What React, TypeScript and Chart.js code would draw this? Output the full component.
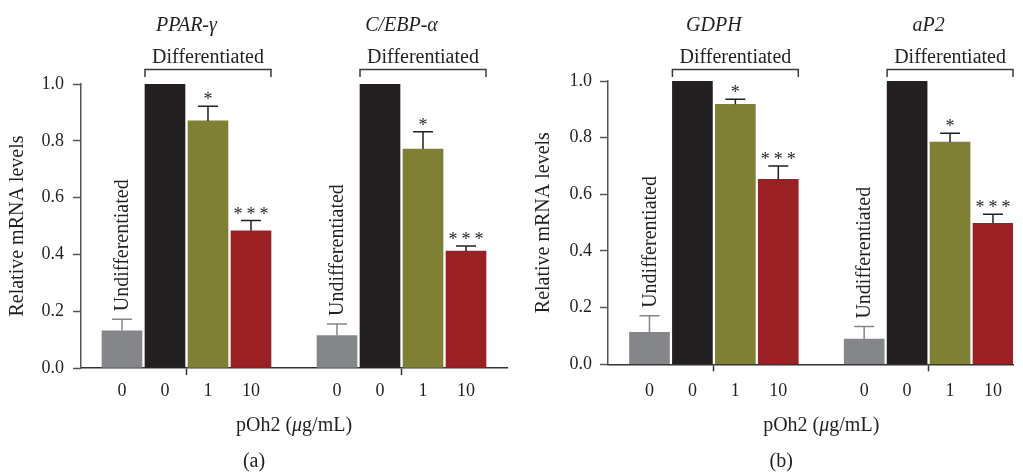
import React, { useEffect, useRef } from 'react';
import { Chart, registerables } from 'chart.js';

Chart.register(...registerables);

const FONT = "'Liberation Serif', 'Times New Roman', serif";
const INK = '#231f20';

// ---- data ----
const doseLabels = ['0', '0', '1', '10'];
const barColors = ['#848689', '#231f20', '#7f8034', '#9b2023'];
const groupPositions = [0, 1, 2, 3, 5, 6, 7, 8];
const groupTickMarks = [1.5, 6.5];
const yTicks = [0, 0.2, 0.4, 0.6, 0.8, 1.0];

const genesA = ['PPAR-γ', 'C/EBP-α'];
const valuesA = [0.131, 1.0, 0.87, 0.483, 0.114, 1.0, 0.771, 0.412];
const errorsA = [0.041, 0, 0.052, 0.036, 0.041, 0, 0.061, 0.018];
const sigA = ['', '', '*', '***', '', '', '*', '***'];

const genesB = ['GDPH', 'aP2'];
const valuesB = [0.113, 1.0, 0.918, 0.653, 0.089, 1.0, 0.784, 0.498];
const errorsB = [0.058, 0, 0.018, 0.047, 0.044, 0, 0.032, 0.032];
const sigB = ['', '', '*', '***', '', '', '*', '***'];

type PanelProps = {
  genes: string[];
  values: number[];
  errors: number[];
  sig: string[];
  caption: string;
  width: number;
  leftW: number;
  top: number;
  rightPad: number;
  bottomH: number;
  xMin: number;
  xMax: number;
  tickPad: number;
  yLabelPad: number;
  yTickPad: number;
};

function Panel(p: PanelProps) {
  const ref = useRef<HTMLCanvasElement | null>(null);
  useEffect(() => {
    if (!ref.current) return;
    const annot = {
      id: 'annot',
      afterDatasetsDraw(chart: any) {
        const ctx = chart.ctx as CanvasRenderingContext2D;
        const xs = chart.scales.x;
        const ys = chart.scales.y;
        ctx.save();
        p.values.forEach((v, i) => {
          const px = xs.getPixelForValue(groupPositions[i]);
          const err = p.errors[i];
          const yBar = ys.getPixelForValue(v);
          const yCap = ys.getPixelForValue(v + err);
          if (err > 0) {
            ctx.strokeStyle = i % 4 === 0 ? barColors[0] : INK;
            ctx.lineWidth = 1.5;
            ctx.beginPath();
            ctx.moveTo(px, yBar);
            ctx.lineTo(px, yCap);
            ctx.moveTo(px - 10, yCap);
            ctx.lineTo(px + 10, yCap);
            ctx.stroke();
          }
          if (p.sig[i]) {
            ctx.fillStyle = INK;
            ctx.font = `18px ${FONT}`;
            ctx.textAlign = 'center';
            ctx.textBaseline = 'alphabetic';
            (ctx as any).letterSpacing = p.sig[i].length > 1 ? '4px' : '0px';
            const off = p.sig[i].length > 1 ? 2 : 0;
            ctx.fillText(p.sig[i], px + off, yCap - 1);
            (ctx as any).letterSpacing = '0px';
          }
          if (i % 4 === 0) {
            ctx.save();
            ctx.translate(px, yCap - 8);
            ctx.rotate(-Math.PI / 2);
            ctx.fillStyle = INK;
            ctx.font = `20px ${FONT}`;
            ctx.textAlign = 'left';
            ctx.textBaseline = 'middle';
            ctx.fillText('Undifferentiated', 0, 1);
            ctx.restore();
          }
        });
        // brackets + gene names
        for (let g = 0; g < 2; g++) {
          const x1 = xs.getPixelForValue(groupPositions[g * 4 + 1]) - 20;
          const x2 = xs.getPixelForValue(groupPositions[g * 4 + 3]) + 20;
          const by = 69.5;
          ctx.strokeStyle = '#3a3a3a';
          ctx.lineWidth = 1.5;
          ctx.beginPath();
          ctx.moveTo(x1, by + 7.5);
          ctx.lineTo(x1, by);
          ctx.lineTo(x2, by);
          ctx.lineTo(x2, by + 7.5);
          ctx.stroke();
          ctx.fillStyle = INK;
          ctx.font = `20px ${FONT}`;
          ctx.textAlign = 'center';
          ctx.textBaseline = 'alphabetic';
          ctx.fillText('Differentiated', (x1 + x2) / 2, 63);
          ctx.font = `italic 20px ${FONT}`;
          ctx.fillText(p.genes[g], xs.getPixelForValue(groupTickMarks[g]), 30.5);
        }
        // x title with italic mu, and caption
        const cx = xs.getPixelForValue(4);
        const parts: [string, string][] = [
          ['pOh2 (', `20px ${FONT}`],
          ['μ', `italic 20px ${FONT}`],
          ['g/mL)', `20px ${FONT}`],
        ];
        let total = 0;
        parts.forEach(([t, f]) => { ctx.font = f; total += ctx.measureText(t).width; });
        let xx = cx - total / 2;
        ctx.textAlign = 'left';
        parts.forEach(([t, f]) => {
          ctx.font = f;
          ctx.fillText(t, xx, 431);
          xx += ctx.measureText(t).width;
        });
        ctx.font = `20px ${FONT}`;
        ctx.textAlign = 'center';
        ctx.fillText(p.caption, cx - 40, 467);
        ctx.restore();
      },
    };

    const labelFor = (v: number) => {
      const i = groupPositions.indexOf(v);
      return i >= 0 ? doseLabels[i % 4] : '';
    };

    const chart = new Chart(ref.current, {
      type: 'bar',
      data: {
        datasets: [
          {
            data: p.values.map((v, i) => ({ x: groupPositions[i], y: v })) as any,
            backgroundColor: p.values.map((_, i) => barColors[i % 4]),
            borderWidth: 0,
            barThickness: 40,
          },
        ],
      },
      options: {
        animation: false,
        responsive: false,
        layout: { padding: { top: p.top, right: p.rightPad, left: 0, bottom: 0 } },
        plugins: { legend: { display: false }, tooltip: { enabled: false } },
        scales: {
          x: {
            type: 'linear',
            offset: false,
            min: p.xMin,
            max: p.xMax,
            afterBuildTicks: (s: any) => {
              s.ticks = [...groupPositions, ...groupTickMarks]
                .sort((a, b) => a - b)
                .map((v) => ({ value: v }));
            },
            afterFit: (s: any) => { s.height = p.bottomH; },
            ticks: {
              autoSkip: false,
              maxRotation: 0,
              callback: (v: any) => labelFor(Number(v)),
              font: { size: 18, family: FONT },
              color: INK,
              padding: p.tickPad,
            },
            grid: {
              offset: false,
              drawOnChartArea: false,
              drawTicks: true,
              tickLength: 7,
              tickWidth: 1.5,
              tickColor: (c: any) =>
                c.tick && Number.isInteger(c.tick.value) ? 'rgba(0,0,0,0)' : '#333',
            },
            border: { display: true, color: '#333', width: 1.5 },
          },
          y: {
            min: 0,
            max: 1,
            afterBuildTicks: (s: any) => { s.ticks = yTicks.map((v) => ({ value: v })); },
            afterFit: (s: any) => { s.width = p.leftW; },
            ticks: {
              callback: (v: any) => Number(v).toFixed(1),
              font: { size: 18, family: FONT },
              color: INK,
              padding: p.yTickPad,
            },
            grid: {
              drawOnChartArea: false,
              drawTicks: true,
              tickLength: 8,
              tickWidth: 1.5,
              tickColor: '#555',
            },
            border: { display: true, color: '#555', width: 1.5 },
            title: {
              display: true,
              text: 'Relative mRNA levels',
              font: { size: 20, family: FONT },
              color: INK,
              padding: { top: p.yLabelPad, bottom: 0 },
            },
          },
        },
      },
      plugins: [annot],
    });
    return () => chart.destroy();
  }, []);
  return <canvas ref={ref} width={p.width} height={475} style={{ display: 'block' }} />;
}

export default function App() {
  return (
    <div
      style={{
        position: 'absolute',
        left: 0,
        top: 0,
        width: 1023,
        height: 475,
        background: '#fff',
        display: 'flex',
      }}
    >
      <Panel
        genes={genesA}
        values={valuesA}
        errors={errorsA}
        sig={sigA}
        caption="(a)"
        width={512}
        leftW={81}
        top={84}
        rightPad={5}
        bottomH={107}
        xMin={-0.953}
        xMax={8.953}
        tickPad={5}
        yLabelPad={6}
        yTickPad={9}
      />
      <Panel
        genes={genesB}
        values={valuesB}
        errors={errorsB}
        sig={sigB}
        caption="(b)"
        width={511}
        leftW={96}
        top={81}
        rightPad={10}
        bottomH={110.7}
        xMin={-0.966}
        xMax={8.466}
        tickPad={8.7}
        yLabelPad={20}
        yTickPad={8}
      />
    </div>
  );
}
